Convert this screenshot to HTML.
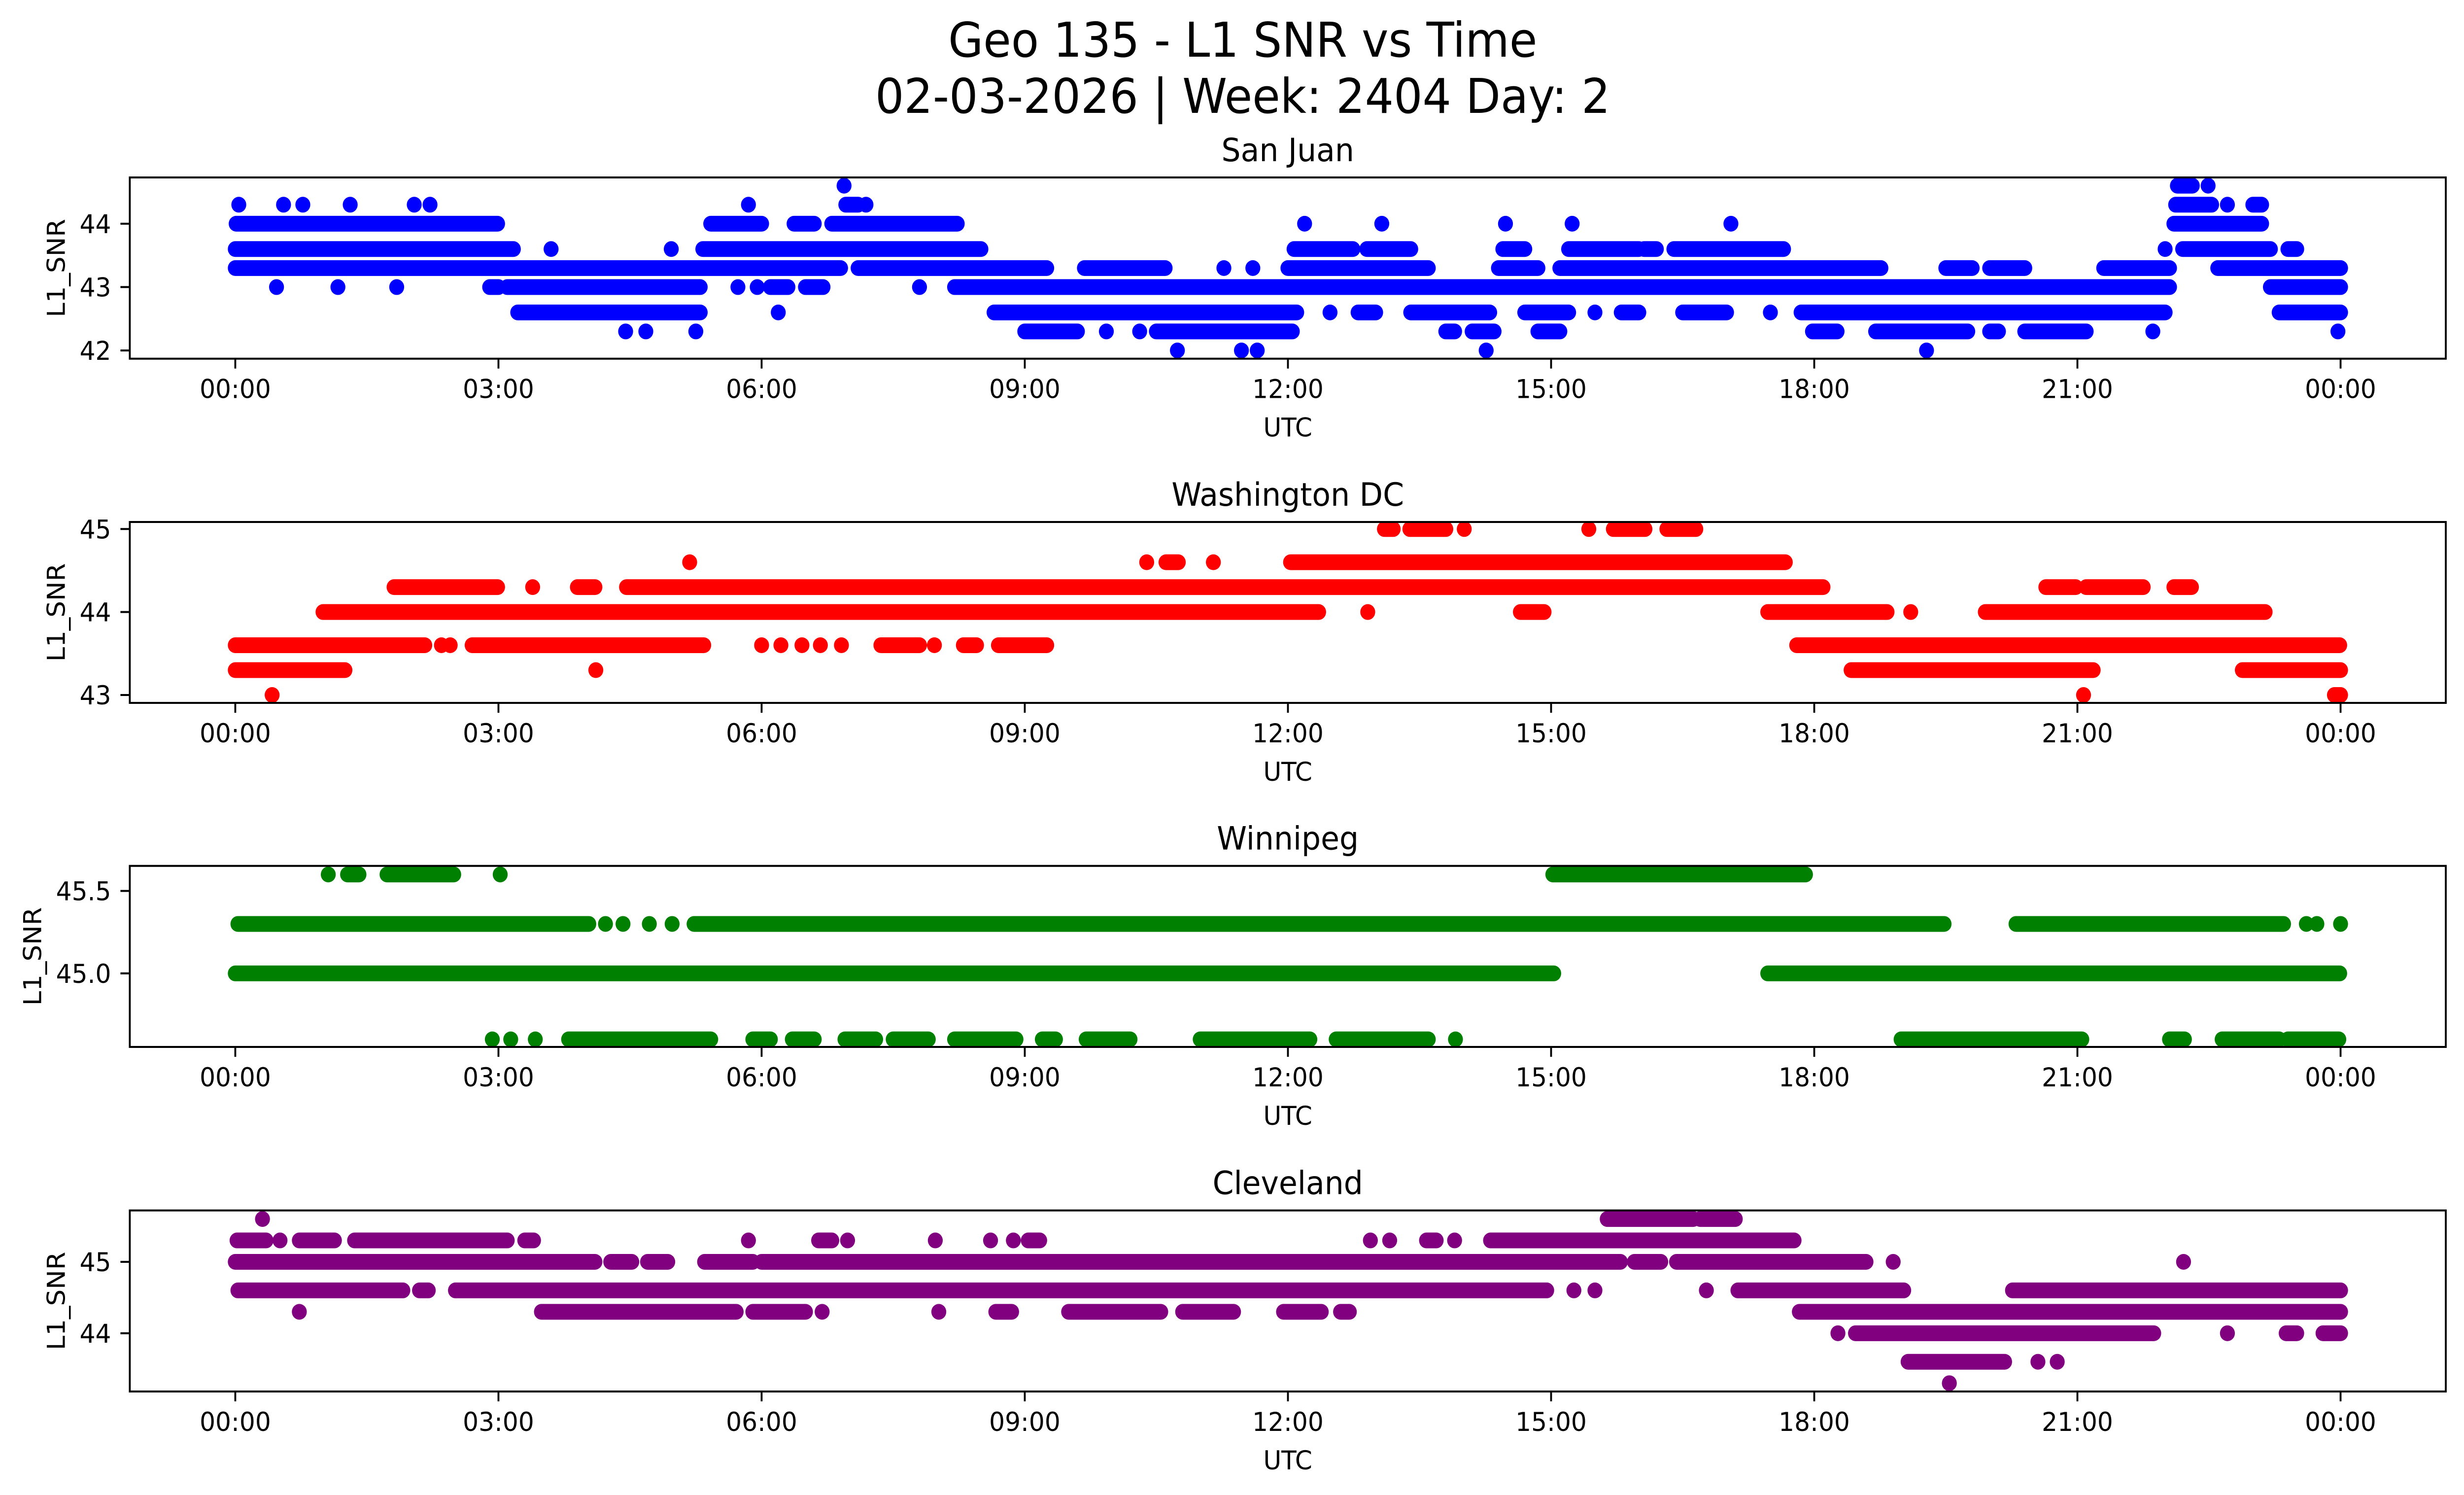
<!DOCTYPE html>
<html>
<head>
<meta charset="utf-8">
<style>
html,body{margin:0;padding:0;background:#fff;width:100%;height:100%;overflow:hidden;}
svg{display:block;position:absolute;left:0;top:0;width:100vw;height:100vh;}
text{font-family:"DejaVu Sans","Liberation Sans",sans-serif;fill:#000;}
</style>
</head>
<body>
<svg id="fig" xmlns="http://www.w3.org/2000/svg" viewBox="0 0 5278 3033" preserveAspectRatio="none">
<rect x="0" y="0" width="5278" height="3033" fill="#fff"/>
<text x="2662" y="115" font-size="97" text-anchor="middle">Geo 135 - L1 SNR vs Time</text>
<text x="2662" y="229" font-size="97" text-anchor="middle">02-03-2026 | Week: 2404 Day: 2</text>
</svg>
<script>
// x-axis tick hours and labels
const xTickHours = [0,3,6,9,12,15,18,21,24];
const xTickLabels = ["00:00","03:00","06:00","09:00","12:00","15:00","18:00","21:00","00:00"];

// San Juan: [level, startHour, endHour?]
const sanJuanPoints = [
[44.6,6.94],[44.6,22.14,22.31],[44.6,22.49],
[44.3,0.04],[44.3,0.55],[44.3,0.77],[44.3,1.31],[44.3,2.04],[44.3,2.22],[44.3,5.85],[44.3,6.96,7.1],[44.3,7.19],[44.3,22.12,22.53],[44.3,22.71],[44.3,23.0,23.1],
[44.0,0.01,2.99],[44.0,5.42,6.0],[44.0,6.37,6.6],[44.0,6.8,8.23],[44.0,12.19],[44.0,13.07],[44.0,14.48],[44.0,15.24],[44.0,17.05],[44.0,22.1,23.1],
[43.6,0,3.17],[43.6,3.6],[43.6,4.97],[43.6,5.33,8.5],[43.6,12.07,12.74],[43.6,12.9,13.4],[43.6,14.45,14.7],[43.6,15.2,16.0],[43.6,16.06,16.2],[43.6,16.4,17.65],[43.6,22.0],[43.6,22.2,23.2],[43.6,23.4,23.5],
[43.3,0,6.9],[43.3,7.1,9.25],[43.3,9.68,10.6],[43.3,11.27],[43.3,11.6],[43.3,12.0,13.6],[43.3,14.4,14.85],[43.3,15.1,18.76],[43.3,19.5,19.8],[43.3,20.0,20.4],[43.3,21.3,22.05],[43.3,22.6,24.0],
[43.0,0.47],[43.0,1.17],[43.0,1.84],[43.0,2.9,3.0],[43.0,3.1,5.3],[43.0,5.73],[43.0,5.95],[43.0,6.1,6.3],[43.0,6.5,6.7],[43.0,7.8],[43.0,8.2,22.05],[43.0,23.2,24.0],
[42.6,3.22,5.3],[42.6,6.19],[42.6,8.65,12.1],[42.6,12.48],[42.6,12.8,13.0],[42.6,13.4,14.3],[42.6,14.7,15.2],[42.6,15.5],[42.6,15.8,16.0],[42.6,16.5,17.0],[42.6,17.5],[42.6,17.85,22.0],[42.6,23.3,24.0],
[42.3,4.45],[42.3,4.68],[42.3,5.25],[42.3,9.0,9.6],[42.3,9.93],[42.3,10.31],[42.3,10.5,12.05],[42.3,13.8,13.9],[42.3,14.1,14.35],[42.3,14.85,15.1],[42.3,17.98,18.26],[42.3,18.7,19.75],[42.3,20.0,20.1],[42.3,20.4,21.1],[42.3,21.86],[42.3,23.97],
[42.0,10.74],[42.0,11.47],[42.0,11.65],[42.0,14.26],[42.0,19.28]
];
const washingtonPoints = [
[45.0,13.1,13.2],[45.0,13.39,13.8],[45.0,14.01],[45.0,15.43],[45.0,15.71,16.07],[45.0,16.32,16.65],
[44.6,5.18],[44.6,10.39],[44.6,10.61,10.75],[44.6,11.15],[44.6,12.03,17.67],
[44.3,1.81,2.99],[44.3,3.39],[44.3,3.9,4.1],[44.3,4.46,18.1],[44.3,20.64,20.98],[44.3,21.1,21.75],[44.3,22.1,22.3],
[44.0,1.0,12.35],[44.0,12.91],[44.0,14.65,14.92],[44.0,17.47,18.83],[44.0,19.1],[44.0,19.95,23.14],
[43.6,0,2.16],[43.6,2.35],[43.6,2.45],[43.6,2.7,5.34],[43.6,6.0],[43.6,6.22],[43.6,6.46],[43.6,6.67],[43.6,6.91],[43.6,7.36,7.8],[43.6,7.97],[43.6,8.3,8.45],[43.6,8.7,9.25],[43.6,17.8,23.99],
[43.3,0,1.25],[43.3,4.11],[43.3,18.42,21.18],[43.3,22.88,24.0],
[43.0,0.42],[43.0,21.07],[43.0,23.93,24.0]
];
const winnipegPoints = [
[45.6,1.06],[45.6,1.28,1.41],[45.6,1.73,2.49],[45.6,3.02],[45.6,15.02,17.9],
[45.3,0.03,4.03],[45.3,4.22],[45.3,4.42],[45.3,4.72],[45.3,4.98],[45.3,5.23,19.48],[45.3,20.3,23.35],[45.3,23.61],[45.3,23.73],[45.3,24.0],
[45.0,0,15.03],[45.0,17.47,23.99],
[44.6,2.93],[44.6,3.14],[44.6,3.42],[44.6,3.8,5.42],[44.6,5.9,6.1],[44.6,6.35,6.6],[44.6,6.95,7.3],[44.6,7.5,7.9],[44.6,8.2,8.9],[44.6,9.2,9.35],[44.6,9.7,10.2],[44.6,11.0,12.25],[44.6,12.55,13.6],[44.6,13.91],[44.6,18.99,21.05],[44.6,22.05,22.22],[44.6,22.65,23.3],[44.6,23.4,23.98]
];
const clevelandPoints = [
[45.6,0.31],[45.6,15.64,16.62],[45.6,16.7,17.1],
[45.3,0.02,0.35],[45.3,0.51],[45.3,0.73,1.13],[45.3,1.36,3.1],[45.3,3.3,3.4],[45.3,5.85],[45.3,6.65,6.8],[45.3,6.98],[45.3,7.98],[45.3,8.61],[45.3,8.87],[45.3,9.04,9.17],[45.3,12.94],[45.3,13.16],[45.3,13.58,13.69],[45.3,13.9],[45.3,14.31,17.77],
[45.0,0,4.1],[45.0,4.28,4.52],[45.0,4.7,4.93],[45.0,5.35,5.9],[45.0,6.0,15.79],[45.0,15.95,16.25],[45.0,16.43,18.59],[45.0,18.9],[45.0,22.21],
[44.6,0.03,1.91],[44.6,2.1,2.2],[44.6,2.51,14.95],[44.6,15.26],[44.6,15.5],[44.6,16.77],[44.6,17.13,19.02],[44.6,20.26,24.0],
[44.3,0.73],[44.3,3.49,5.71],[44.3,5.9,6.5],[44.3,6.69],[44.3,8.02],[44.3,8.67,8.85],[44.3,9.5,10.55],[44.3,10.8,11.38],[44.3,11.95,12.38],[44.3,12.6,12.7],[44.3,17.83,24.0],
[44.0,18.27],[44.0,18.47,21.87],[44.0,22.71],[44.0,23.38,23.5],[44.0,23.8,24.0],
[43.6,19.07,20.17],[43.6,20.55],[43.6,20.77],
[43.3,19.54]
];
const sanJuanTicks = [42,43,44];
const washingtonTicks = [43,44,45];
const winnipegTicks = [45.0,45.5];
const clevelandTicks = [44,45];
const sanJuanTickLabels = ["42","43","44"];
const washingtonTickLabels = ["43","44","45"];
const winnipegTickLabels = ["45.0","45.5"];
const clevelandTickLabels = ["44","45"];

const NS = "http://www.w3.org/2000/svg";
const svg = document.getElementById('fig');
const X0 = 504, PXH = 187.9, LEFT = 278, RIGHT = 5239, R = 16;
function xScale(h){ return X0 + h*PXH; }
function mk(tag, attrs, parent){
  const e = document.createElementNS(NS, tag);
  for (const k in attrs) e.setAttribute(k, attrs[k]);
  parent.appendChild(e);
  return e;
}
const panels = [
 {key:'san-juan', title:'San Juan', pts:sanJuanPoints, ticks:sanJuanTicks, labels:sanJuanTickLabels, top:360, bottom:727.7, ymin:41.87, ymax:44.73, color:'#0000ff', ylx:139},
 {key:'washington-dc', title:'Washington DC', pts:washingtonPoints, ticks:washingtonTicks, labels:washingtonTickLabels, top:1059, bottom:1426, ymin:42.905, ymax:45.085, color:'#ff0000', ylx:139},
 {key:'winnipeg', title:'Winnipeg', pts:winnipegPoints, ticks:winnipegTicks, labels:winnipegTickLabels, top:1756.7, bottom:2124, ymin:44.554, ymax:45.652, color:'#008000', ylx:88},
 {key:'cleveland', title:'Cleveland', pts:clevelandPoints, ticks:clevelandTicks, labels:clevelandTickLabels, top:2455.7, bottom:2823, ymin:43.184, ymax:45.72, color:'#800080', ylx:139}
];
panels.forEach(p => {
  const g = mk('g', {}, svg);
  
  
  const yS = v => p.bottom - (v - p.ymin)/(p.ymax - p.ymin)*(p.bottom - p.top);
  const marks = mk('g', {}, g);
  
  
  p.pts.forEach(d => {
    const y = yS(d[0]);
    if (d.length < 3 || d[2] === d[1]) {
      const c = mk('circle', {cx:xScale(d[1]), cy:y, r:R, fill:p.color}, marks);
      
      
    } else {
      const l = mk('line', {x1:xScale(d[1]), x2:xScale(d[2]), y1:y, y2:y, stroke:p.color, 'stroke-width':2*R, 'stroke-linecap':'round'}, marks);
      
      
    }
  });
  const frame = mk('rect', {x:LEFT, y:p.top, width:RIGHT-LEFT, height:p.bottom-p.top, fill:'none', stroke:'#000', 'stroke-width':4}, g);
  
  
  xTickHours.forEach((h,i) => {
    const x = xScale(h);
    const t = mk('line', {x1:x, x2:x, y1:p.bottom, y2:p.bottom+20, stroke:'#000', 'stroke-width':4}, g);
    
    
    const tl = mk('text', {x:x, y:p.bottom+80, 'font-size':53, 'text-anchor':'middle'}, g);
    tl.textContent = xTickLabels[i];
    
    
  });
  p.ticks.forEach((v,i) => {
    const y = yS(v);
    const t = mk('line', {x1:LEFT-20, x2:LEFT, y1:y, y2:y, stroke:'#000', 'stroke-width':4}, g);
    
    
    const tl = mk('text', {x:LEFT-40, y:y+19, 'font-size':53, 'text-anchor':'end'}, g);
    tl.textContent = p.labels[i];
    
    
  });
  const xl = mk('text', {x:(LEFT+RIGHT)/2, y:p.bottom+158, 'font-size':53, 'text-anchor':'middle'}, g);
  xl.textContent = 'UTC';
  
  
  const cy = (p.top+p.bottom)/2;
  const yl = mk('text', {x:p.ylx, y:cy, 'font-size':53, 'text-anchor':'middle', transform:'rotate(-90 '+p.ylx+' '+cy+')'}, g);
  yl.textContent = 'L1_SNR';
  
  
  const tt = mk('text', {x:(LEFT+RIGHT)/2, y:p.top-33, 'font-size':65, 'text-anchor':'middle'}, g);
  tt.textContent = p.title;
  
  
});
</script>
</body>
</html>
